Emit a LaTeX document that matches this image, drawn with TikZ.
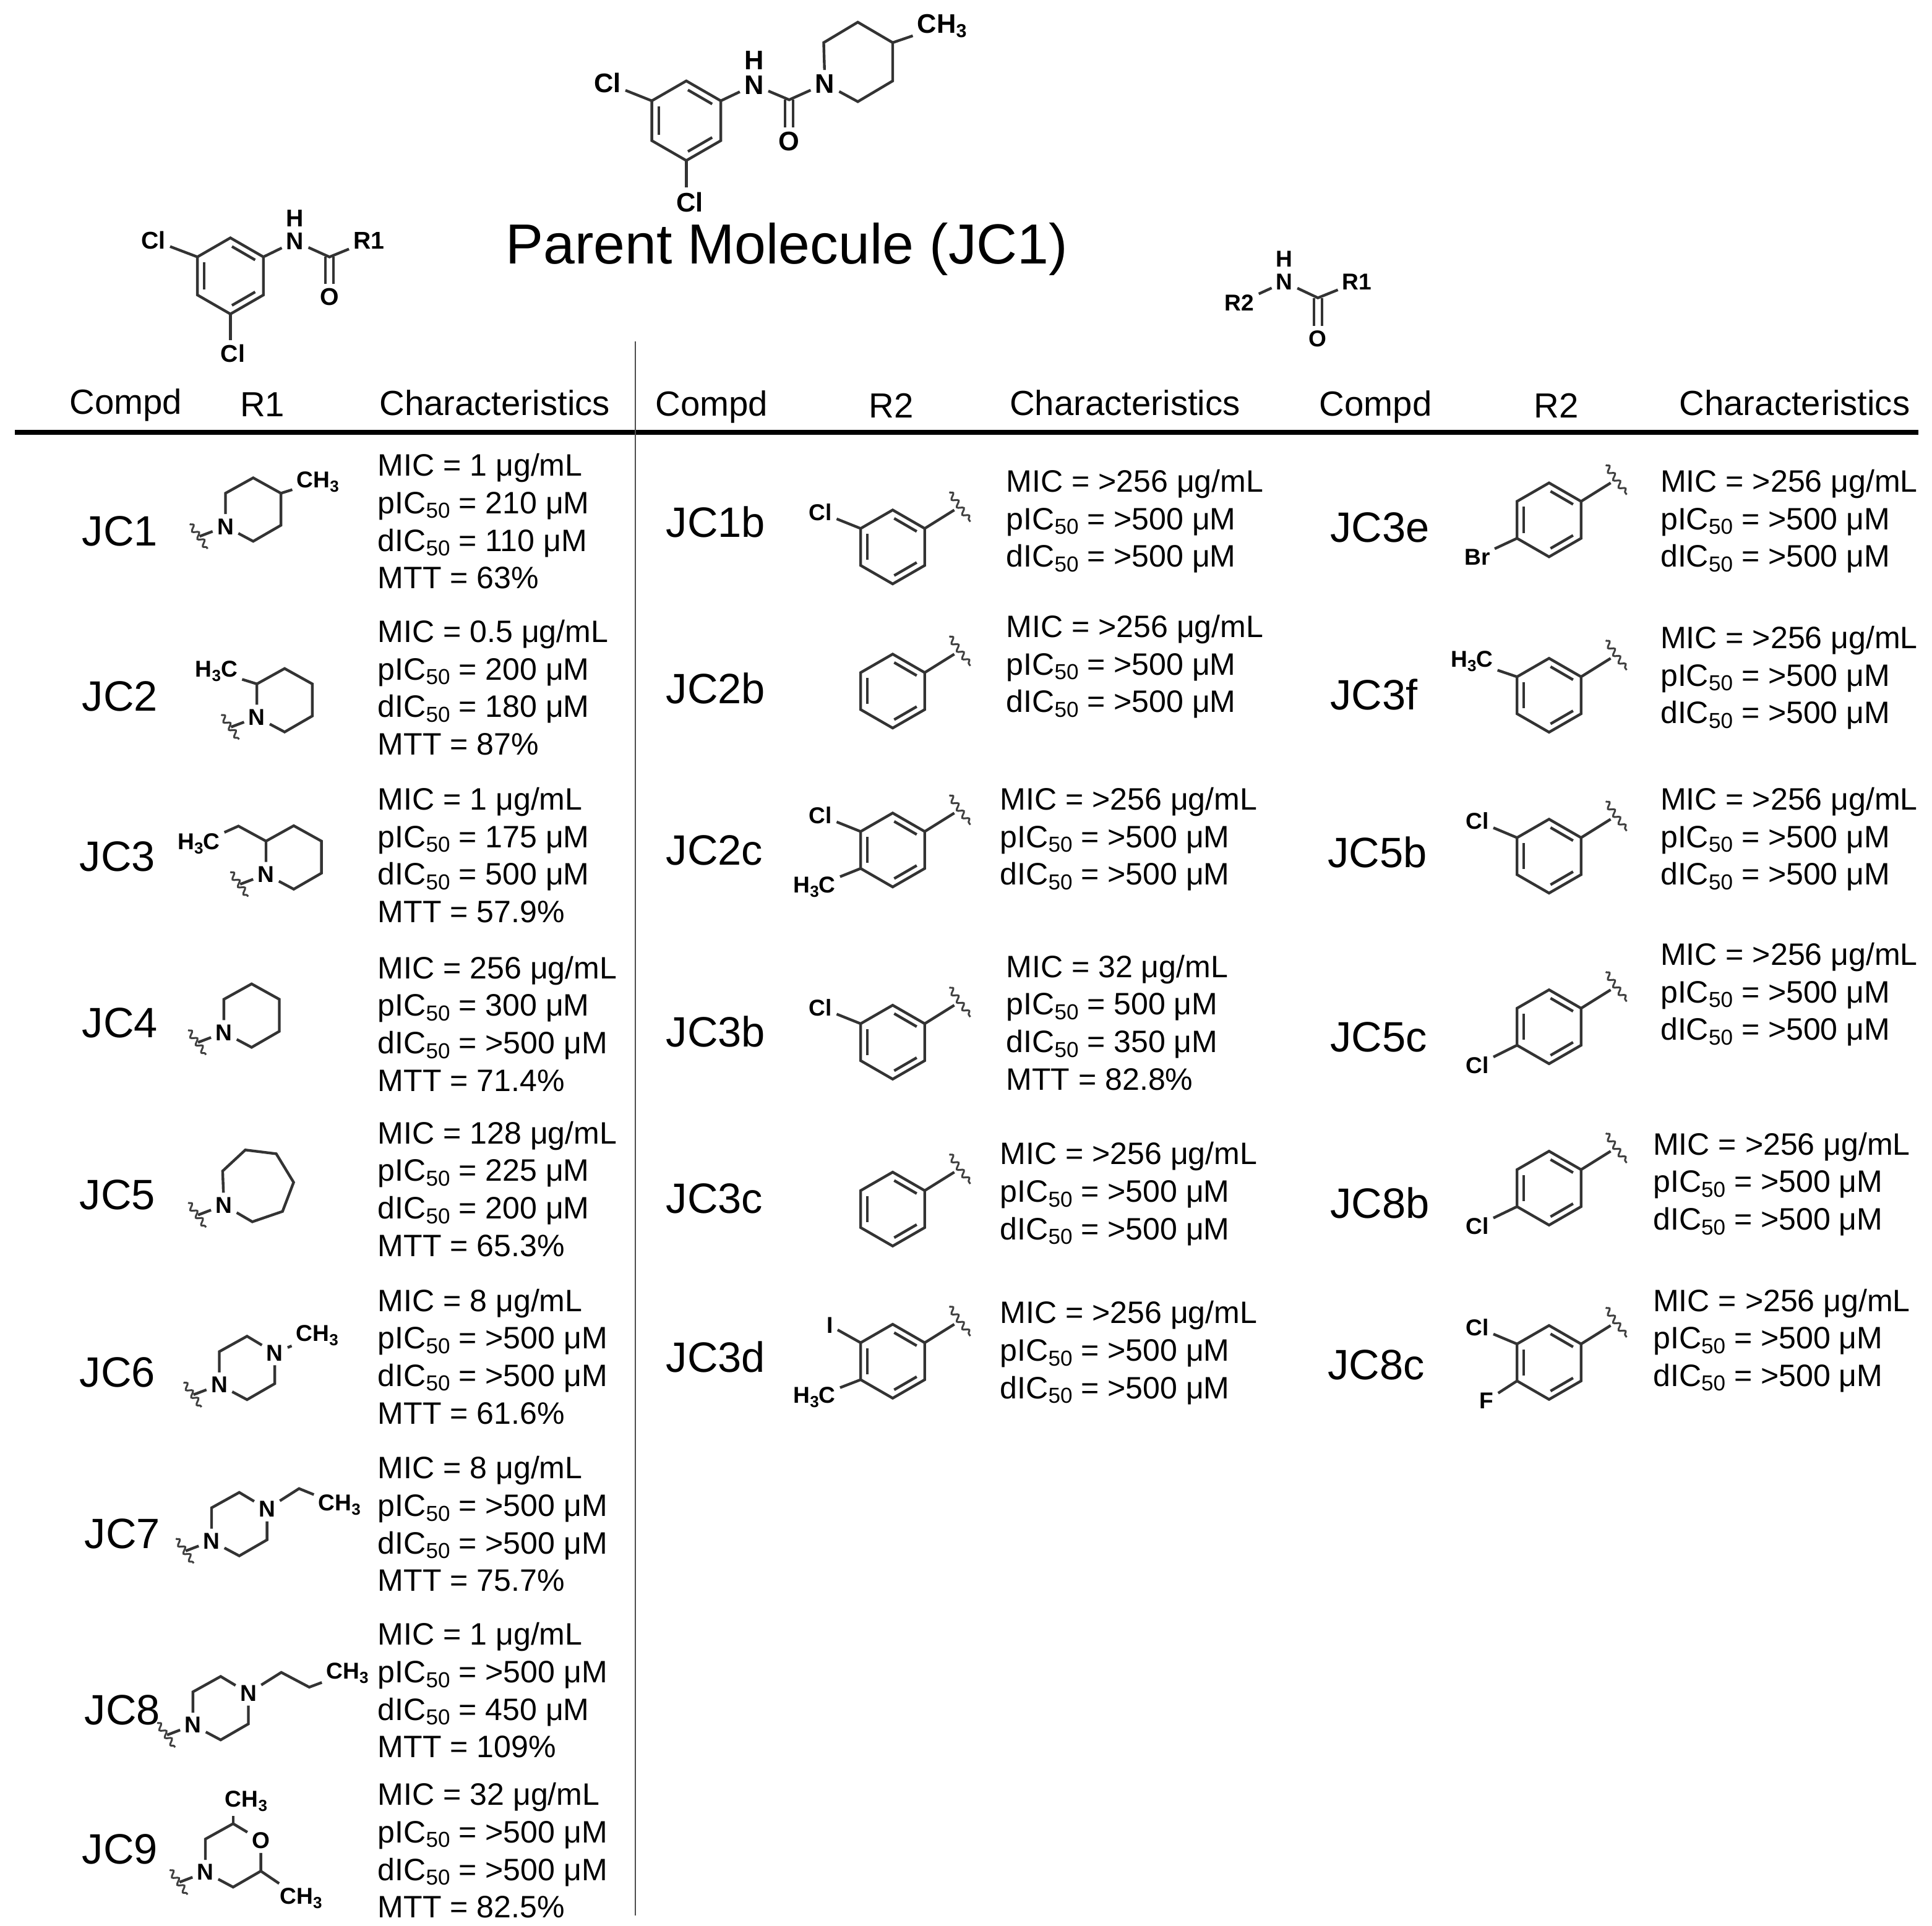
\documentclass[tikz,border=0pt]{standalone}
\usepackage{fontspec}
\setmainfont{Liberation Sans}
\usetikzlibrary{decorations.pathmorphing}
\scriptspace=0pt
\tikzset{
	bond/.style={line width=0.22mm, color=black!80},
	dbond/.style={line width=0.22mm, color=black!80, double, double distance=0.44mm},
	squig/.style={line width=0.15mm, color=black!75, decorate, decoration={snake, amplitude=0.22mm, segment length=0.75mm}},
	atom/.style={inner sep=0.3mm, font=\bfseries\fontsize{5.3}{6}\selectfont},
	atomm/.style={inner sep=0.3mm, font=\bfseries\fontsize{5.6}{6.5}\selectfont},
	atoml/.style={inner sep=0.3mm, font=\bfseries\fontsize{6.2}{7}\selectfont},
	head/.style={inner sep=0, anchor=base, font=\fontsize{8.05}{9.5}\selectfont},
	cmpdlab/.style={inner sep=0, anchor=base west, font=\fontsize{9.8}{11}\selectfont},
	chars/.style={inner sep=0, anchor=north west, align=left, font=\fontsize{7.15}{8.67}\selectfont}
}
\def\ic{IC\textsubscript{50}}
\def\hthree{H\textsubscript{3}C}
\def\chthree{CH\textsubscript{3}}
\def\cmpd#1(#2,#3)#4{\node[cmpdlab] (#1) at (#2,#3+12) {#4};}
\def\props#1(#2,#3)#4{\node[chars] (#1) at (#2,#3-9.5) {#4};}
% benzene ring, #4 is the size
\def\aryl#1(#2,#3)#4{
	\begin{scope}[shift={(#2,#3)}, scale=#4]
		\coordinate (#1top) at (0,-30);
		\coordinate (#1ur) at (26,-15);
		\coordinate (#1lr) at (26,15);
		\coordinate (#1bot) at (0,30);
		\coordinate (#1ll) at (-26,15);
		\coordinate (#1ul) at (-26,-15);
		\draw[bond] (#1top) -- (#1ur) -- (#1lr) -- (#1bot) -- (#1ll) -- (#1ul) -- cycle;
		\draw[bond] (1.2,-23.2) -- (19.5,-12.6);
		\draw[bond] (19.5,12.6) -- (1.2,23.2);
		\draw[bond] (-20.7,-10.6) -- (-20.7,10.6);
	\end{scope}
}
\def\arylw#1(#2,#3){
	\aryl#1(#2,#3){1}
	\coordinate (#1wa) at (#2+46,#3-44.5);
	\coordinate (#1wb) at (#2+63,#3-20.5);
	\coordinate (#1wm) at (#2+50,#3-30);
	\draw[bond] (#1ur) -- (#1wm);
	\draw[squig] (#1wa) -- (#1wb);
}
\def\ntail#1(#2,#3){
	\node[atom] (#1n) at (#2,#3) {N};
	\coordinate (#1wa) at (#2-29,#3-2);
	\coordinate (#1wb) at (#2-14.5,#3+18);
	\coordinate (#1wm) at (#2-21,#3+8);
	\draw[bond] (#1n) -- (#1wm);
	\draw[squig] (#1wa) -- (#1wb);
}
\def\ringpts#1(#2,#3){
	\ntail#1(#2,#3)
	\coordinate (#1a) at (#2,#3-27);
	\coordinate (#1b) at (#2+22.5,#3-39.5);
	\coordinate (#1d) at (#2+45,#3-1);
	\coordinate (#1e) at (#2+22.5,#3+12);
}
\def\pipring#1(#2,#3){
	\ringpts#1(#2,#3)
	\coordinate (#1c) at (#2+45,#3-27);
	\draw[bond] (#1n) -- (#1a) -- (#1b) -- (#1c) -- (#1d) -- (#1e) -- (#1n);
}
\def\hetring#1(#2,#3)#4{
	\ringpts#1(#2,#3)
	\node[atom] (#1c) at (#2+45,#3-26) {#4};
	\draw[bond] (#1n) -- (#1a) -- (#1b) -- (#1c) -- (#1d) -- (#1e) -- (#1n);
}

\begin{document}
\begin{tikzpicture}[x=0.1mm, y=-0.1mm]
	\useasboundingbox (0,0) rectangle (1568,1563);
	
	%%%%% parent molecule %%%%%
	\aryl par(557,98){1.077}
	\node[atoml] (parcla) at (493,67.5) {Cl};
	\node[atoml] (parclb) at (560,164) {Cl};
	\node[atoml] (parnh) at (612,69) {N};
	\node[atoml] (parh) at (612,49) {H};
	\coordinate (parc) at (640.5,81);
	\node[atoml] (paro) at (640.5,115) {O};
	\node[atoml] (parn) at (669.5,68) {N};
	\coordinate (para) at (668.5,34.6);
	\coordinate (parb) at (696.2,18);
	\coordinate (parcc) at (724.5,34.6);
	\coordinate (pard) at (724.5,65.7);
	\coordinate (pare) at (696.2,82.5);
	\node[atoml] (parme) at (764.5,21) {\chthree};
	\draw[dbond] (parc) -- (paro);
	\draw[bond] (parul) -- (parcla);
	\draw[bond] (parbot) -- (parbot |- parclb.north);
	\draw[bond] (parur) -- (parnh) -- (parc) -- (parn);
	\draw[bond] (parn) -- (para) -- (parb) -- (parcc) -- (pard) -- (pare) -- (parn);
	\draw[bond] (parcc) -- (parme);
	\node[inner sep=0, anchor=base, font=\fontsize{13.05}{15}\selectfont] (title) at (638.5,214) {Parent Molecule (JC1)};
	
	%%%%% scaffolds %%%%%
	\aryl sca(187,224){1.03}
	\node[atomm] (scacla) at (124.5,195) {Cl};
	\node[atomm] (scaclb) at (189,287) {Cl};
	\node[atomm] (scan) at (239.5,196) {N};
	\node[atomm] (scah) at (239.5,177) {H};
	\coordinate (scac) at (267.4,208.6);
	\node[atomm] (scao) at (267.4,241) {O};
	\node[atomm] (scar) at (299.5,195.5) {R1};
	\draw[dbond] (scac) -- (scao);
	\draw[bond] (scaul) -- (scacla);
	\draw[bond] (scabot) -- (scabot |- scaclb.north);
	\draw[bond] (scaur) -- (scan) -- (scac) -- (scar);
	
	\node[atom] (scbr) at (1006,245.7) {R2};
	\node[atom] (scbn) at (1042.5,229) {N};
	\node[atom] (scbh) at (1042.5,210) {H};
	\coordinate (scbc) at (1069.6,241.8);
	\node[atom] (scbo) at (1069.6,275) {O};
	\node[atom] (scbs) at (1101.4,229) {R1};
	\draw[dbond] (scbc) -- (scbo);
	\draw[bond] (scbr) -- (scbn) -- (scbc) -- (scbs);
	
	%%%%% table head %%%%%
	\draw[line width=0.42mm] (12,351) -- (1557,351);
	\draw[line width=0.1mm, color=black!70] (515.5,277) -- (515.5,1555);
	\node[head] (hca) at (102,336) {Compd};
	\node[head] (hra) at (213,338) {R1};
	\node[head] (hpa) at (401.5,337) {Characteristics};
	\node[head] (hcb) at (577.5,337.5) {Compd};
	\node[head] (hrb) at (723.5,339) {R2};
	\node[head] (hpb) at (913,337) {Characteristics};
	\node[head] (hcc) at (1116.5,337.5) {Compd};
	\node[head] (hrc) at (1263,339) {R2};
	\node[head] (hpc) at (1456.5,337) {Characteristics};
	
	%%%%% R1 column %%%%%
	\cmpd lja(66,431){JC1}
	\pipring ra(183,427.4)
	\node[atom] (rame) at (258,391) {\chthree};
	\draw[bond] (rac) -- (rame);
	\props pja(306,377){MIC = 1 μg/mL\\p\ic{} = 210 μM\\d\ic{} = 110 μM\\MTT = 63\%}
	
	\cmpd ljb(66,565){JC2}
	\pipring rb(208.5,582.2)
	\node[atom] (rbme) at (175.7,545) {\hthree};
	\draw[bond] (rba) -- (rbme);
	\props pjb(306,512){MIC = 0.5 μg/mL\\p\ic{} = 200 μM\\d\ic{} = 180 μM\\MTT = 87\%}
	
	\cmpd ljc(64,695){JC3}
	\pipring rc(215.9,709.8)
	\coordinate (rcet) at (193.5,670.6);
	\node[atom] (rcme) at (161.3,685) {\hthree};
	\draw[bond] (rca) -- (rcet) -- (rcme);
	\props pjc(306,648){MIC = 1 μg/mL\\p\ic{} = 175 μM\\d\ic{} = 500 μM\\MTT = 57.9\%}
	
	\cmpd ljd(66,830){JC4}
	\pipring rd(181.7,838.2)
	\props pjd(306,785){MIC = 256 μg/mL\\p\ic{} = 300 μM\\d\ic{} = >500 μM\\MTT = 71.4\%}
	
	\cmpd lje(64,970){JC5}
	\ntail re(181.7,978.3)
	\coordinate (rea) at (180.7,950.6);
	\coordinate (reb) at (199.1,933.5);
	\coordinate (rec) at (224.2,936.6);
	\coordinate (red) at (238.3,959.8);
	\coordinate (ree) at (229.3,983.4);
	\coordinate (ref) at (204.8,991.8);
	\draw[bond] (ren) -- (rea) -- (reb) -- (rec) -- (red) -- (ree) -- (ref) -- (ren);
	\props pje(306,919){MIC = 128 μg/mL\\p\ic{} = 225 μM\\d\ic{} = 200 μM\\MTT = 65.3\%}
	
	\cmpd ljf(64,1114){JC6}
	\hetring rf(178,1124.2){N}
	\node[atom] (rfme) at (257.5,1084) {\chthree};
	\draw[bond] (rfc) -- (rfme);
	\props pjf(306,1055){MIC = 8 μg/mL\\p\ic{} = >500 μM\\d\ic{} = >500 μM\\MTT = 61.6\%}
	
	\cmpd ljg(68,1245){JC7}
	\hetring rg(171.7,1251){N}
	\coordinate (rget) at (242.7,1208.4);
	\node[atom] (rgme) at (275.5,1221.7) {\chthree};
	\draw[bond] (rgc) -- (rget) -- (rgme);
	\props pjg(306,1191){MIC = 8 μg/mL\\p\ic{} = >500 μM\\d\ic{} = >500 μM\\MTT = 75.7\%}
	
	\cmpd ljh(68,1388){JC8}
	\hetring rh(156.6,1400.4){N}
	\coordinate (rhet) at (228.3,1357.6);
	\coordinate (rhpr) at (251,1369.6);
	\node[atom] (rhme) at (282,1358) {\chthree};
	\draw[bond] (rhc) -- (rhet) -- (rhpr) -- (rhme);
	\props pjh(306,1326){MIC = 1 μg/mL\\p\ic{} = >500 μM\\d\ic{} = 450 μM\\MTT = 109\%}
	
	\cmpd lji(66,1501){JC9}
	\hetring ri(166.7,1519.9){O}
	\node[atom] (rima) at (199.8,1462) {\chthree};
	\node[atom] (rimb) at (244.3,1541) {\chthree};
	\draw[bond] (rib) -- (rib |- rima.south);
	\draw[bond] (rid) -- (rimb);
	\props pji(306,1456){MIC = 32 μg/mL\\p\ic{} = >500 μM\\d\ic{} = >500 μM\\MTT = 82.5\%}
	
	%%%%% R2 middle column %%%%%
	\cmpd lka(540,424){JC1b}
	\arylw ka(724.5,444)
	\node[atom] (kacl) at (666,416) {Cl};
	\draw[bond] (kaul) -- (kacl);
	\props pka(816,390){MIC = >256 μg/mL\\p\ic{} = >500 μM\\d\ic{} = >500 μM}
	
	\cmpd lkb(540,559){JC2b}
	\arylw kb(724.5,561)
	\props pkb(816,508){MIC = >256 μg/mL\\p\ic{} = >500 μM\\d\ic{} = >500 μM}
	
	\cmpd lkc(540,690){JC2c}
	\arylw kc(724.5,690)
	\node[atom] (kccl) at (666,662) {Cl};
	\node[atom] (kcme) at (661,720) {\hthree};
	\draw[bond] (kcul) -- (kccl);
	\draw[bond] (kcll) -- (kcme);
	\props pkc(811,648){MIC = >256 μg/mL\\p\ic{} = >500 μM\\d\ic{} = >500 μM}
	
	\cmpd lkd(540,838){JC3b}
	\arylw kd(724.5,846)
	\node[atom] (kdcl) at (666,818) {Cl};
	\draw[bond] (kdul) -- (kdcl);
	\props pkd(816,784){MIC = 32 μg/mL\\p\ic{} = 500 μM\\d\ic{} = 350 μM\\MTT = 82.8\%}
	
	\cmpd lke(540,973){JC3c}
	\arylw ke(724.5,981.5)
	\props pke(811,936){MIC = >256 μg/mL\\p\ic{} = >500 μM\\d\ic{} = >500 μM}
	
	\cmpd lkf(540,1102){JC3d}
	\arylw kf(724.5,1105)
	\node[atom] (kfi) at (673.5,1076) {I};
	\node[atom] (kfme) at (661,1134.5) {\hthree};
	\draw[bond] (kful) -- (kfi);
	\draw[bond] (kfll) -- (kfme);
	\props pkf(811,1065){MIC = >256 μg/mL\\p\ic{} = >500 μM\\d\ic{} = >500 μM}
	
	%%%%% R2 right column %%%%%
	\cmpd lma(1079,428){JC3e}
	\arylw ma(1257.2,422)
	\node[atom] (mabr) at (1199,452) {Br};
	\draw[bond] (mall) -- (mabr);
	\props pma(1347,390){MIC = >256 μg/mL\\p\ic{} = >500 μM\\d\ic{} = >500 μM}
	
	\cmpd lmb(1079,564){JC3f}
	\arylw mb(1257.2,564.4)
	\node[atom] (mbme) at (1194.6,537) {\hthree};
	\draw[bond] (mbul) -- (mbme);
	\props pmb(1347,517){MIC = >256 μg/mL\\p\ic{} = >500 μM\\d\ic{} = >500 μM}
	
	\cmpd lmc(1077,692){JC5b}
	\arylw mc(1257.2,695)
	\node[atom] (mccl) at (1199,666.5) {Cl};
	\draw[bond] (mcul) -- (mccl);
	\props pmc(1347,648){MIC = >256 μg/mL\\p\ic{} = >500 μM\\d\ic{} = >500 μM}
	
	\cmpd lmd(1079,842){JC5c}
	\arylw md(1257.2,833.5)
	\node[atom] (mdcl) at (1199,864.5) {Cl};
	\draw[bond] (mdll) -- (mdcl);
	\props pmd(1347,774){MIC = >256 μg/mL\\p\ic{} = >500 μM\\d\ic{} = >500 μM}
	
	\cmpd lme(1079,977){JC8b}
	\arylw me(1257.2,964.5)
	\node[atom] (mecl) at (1199,995) {Cl};
	\draw[bond] (mell) -- (mecl);
	\props pme(1341,928){MIC = >256 μg/mL\\p\ic{} = >500 μM\\d\ic{} = >500 μM}
	
	\cmpd lmf(1077,1108){JC8c}
	\arylw mf(1257.2,1106)
	\node[atom] (mfcl) at (1199,1077.5) {Cl};
	\node[atom] (mff) at (1206.5,1137) {F};
	\draw[bond] (mful) -- (mfcl);
	\draw[bond] (mfll) -- (mff);
	\props pmf(1341,1055){MIC = >256 μg/mL\\p\ic{} = >500 μM\\d\ic{} = >500 μM}
\end{tikzpicture}
\end{document}
